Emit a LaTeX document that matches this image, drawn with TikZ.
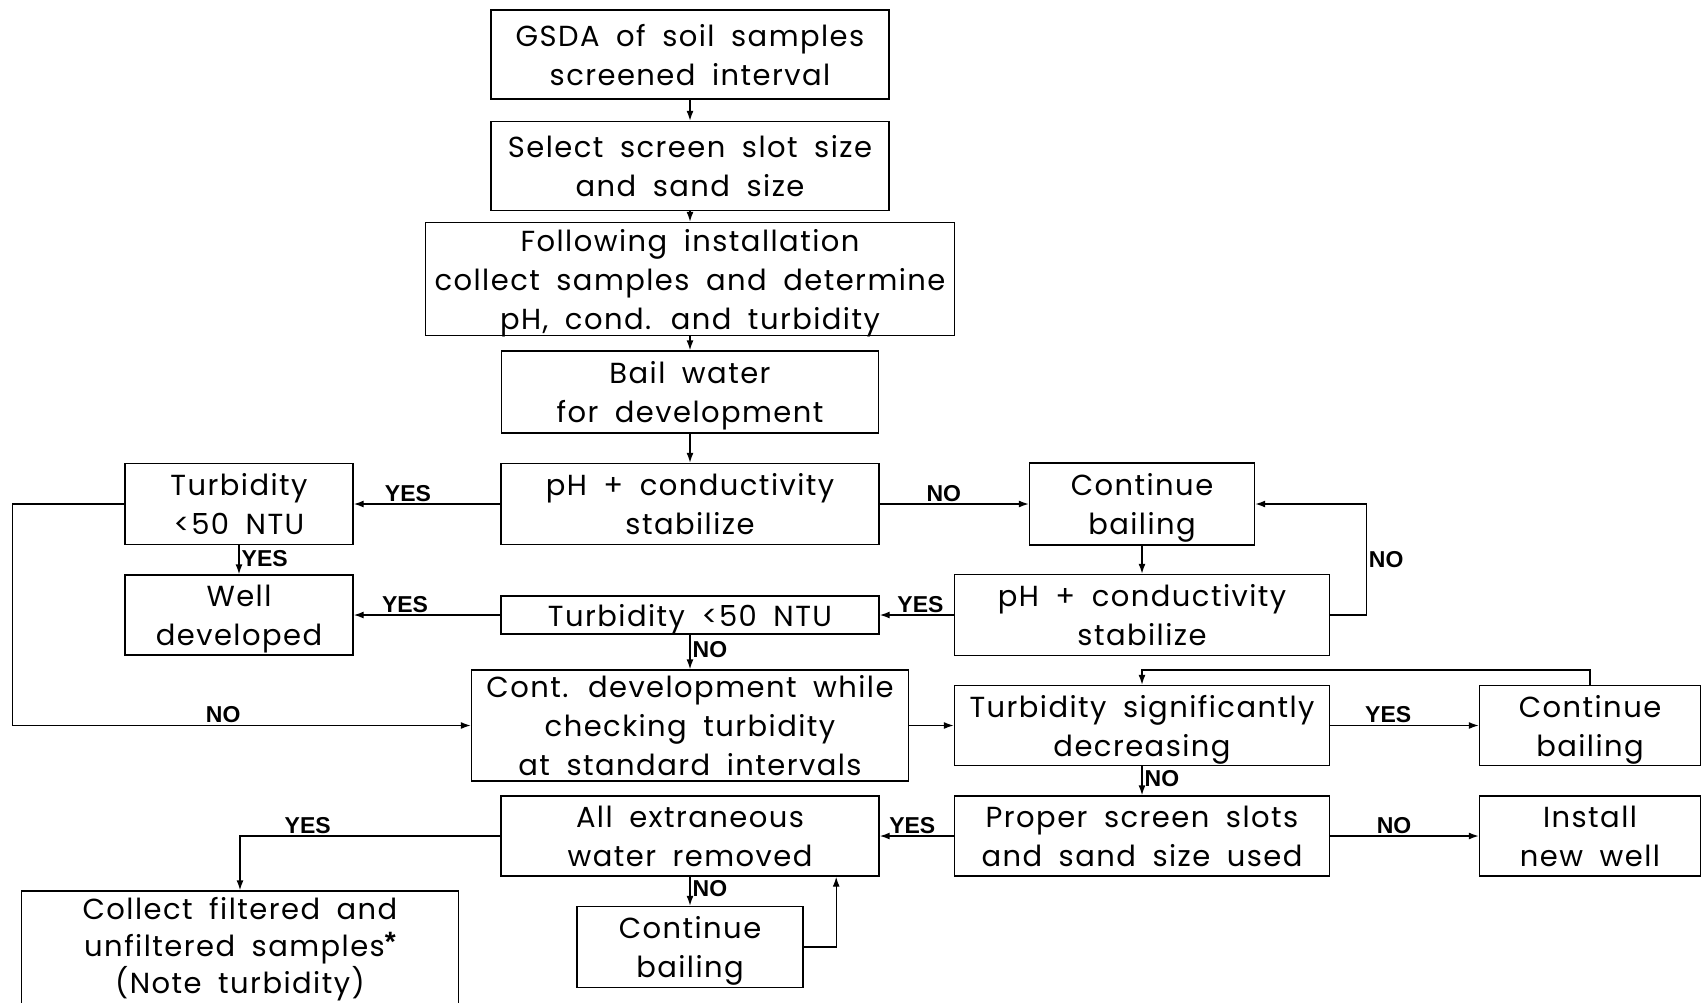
\documentclass[tikz,border=0pt]{standalone}
\usepackage{fontspec}
\setmainfont[LetterSpace=5, WordSpace=1.8]{Poppins}
\newfontfamily\ansfont{Liberation Sans}
\usetikzlibrary{arrows.meta}
\tikzset{
    flowbox/.style={draw, line width=1.4pt, inner sep=0pt, align=center, text depth=0pt, font=\fontsize{29}{39}\selectfont},
    flowarr/.style={line width=1.4pt, -{Latex[length=10pt,width=7pt]}},
    ans/.style={font=\ansfont\bfseries\fontsize{23}{23}\selectfont, inner sep=2pt}
}

\begin{document}
\begin{tikzpicture}[x=1pt, y=-1pt]
                \clip (0,0) rectangle (1702,1002);

                \node[flowbox, minimum width=398, minimum height=89] (gsda) at (690,54.5) {GSDA of soil samples\\screened interval};
                \node[flowbox, minimum width=398, minimum height=89] (slot) at (690,166) {Select screen slot size\\and sand size};
                \node[flowbox, minimum width=529, minimum height=113, text depth=-4pt] (install) at (690,279) {Following installation\\collect samples and determine\\pH, cond. and turbidity};
                \node[flowbox, minimum width=377, minimum height=82] (bail) at (690,392) {Bail water\\for development};

                \node[flowbox, minimum width=378, minimum height=81] (phA) at (690,504) {pH + conductivity\\stabilize};
                \node[flowbox, minimum width=228, minimum height=81] (turbA) at (239,504) {Turbidity\\<50 NTU};
                \node[flowbox, minimum width=225, minimum height=82] (bailA) at (1142,504) {Continue\\bailing};

                \node[flowbox, minimum width=228, minimum height=80] (done) at (239,615) {Well\\developed};
                \node[flowbox, minimum width=378, minimum height=38] (turbB) at (690,615) {Turbidity <50 NTU};
                \node[flowbox, minimum width=375, minimum height=81] (phB) at (1142,615) {pH + conductivity\\stabilize};

                \node[flowbox, minimum width=437, minimum height=111] (contdev) at (690,725.5) {Cont. development while\\checking turbidity\\at standard intervals};
                \node[flowbox, minimum width=375, minimum height=80] (decr) at (1142,725.5) {Turbidity significantly\\decreasing};
                \node[flowbox, minimum width=221, minimum height=80] (bailB) at (1590,725.5) {Continue\\bailing};

                \node[flowbox, minimum width=378, minimum height=80] (water) at (690,836) {All extraneous\\water removed};
                \node[flowbox, minimum width=375, minimum height=80] (proper) at (1142,836) {Proper screen slots\\and sand size used};
                \node[flowbox, minimum width=221, minimum height=80] (newwell) at (1590,836) {Install\\new well};

                \node[flowbox, minimum width=437, minimum height=118, text depth=9pt, font=\fontsize{29}{37}\selectfont] (collect) at (240,950) {Collect filtered and\\unfiltered samples\raisebox{5pt}{\ansfont\bfseries\fontsize{28}{28}\selectfont*}\\(Note turbidity)};
                \node[flowbox, minimum width=226, minimum height=81] (bailC) at (690,947) {Continue\\bailing};

                \draw[flowarr] (gsda.south) -- (slot.north);
                \draw[flowarr] (slot.south) -- (install.north);
                \draw[flowarr] (install.south) -- (bail.north);
                \draw[flowarr] (bail.south) -- (phA.north);

                \draw[flowarr] (phA.west) -- node[ans, above, pos=.63] {YES} (turbA.east);
                \draw[flowarr] (phA.east) -- node[ans, above, pos=.43] {NO} (bailA.west);
                \draw[flowarr] (turbA.south) -- node[ans, right, pos=.45] {YES} (done.north);
                \draw[flowarr] (turbA.west) -- ++(-112,0) |- node[ans, above, pos=.73] {NO} (contdev.west);

                \draw[flowarr] (bailA.south) -- (phB.north);
                \draw[flowarr] (phB.east) -- ++(36,0) |- node[ans, right, pos=.25] {NO} (bailA.east);
                \draw[flowarr] (phB.west) -- node[ans, above, pos=.45] {YES} (turbB.east);
                \draw[flowarr] (turbB.west) -- node[ans, above, pos=.65] {YES} (done.east);
                \draw[flowarr] (turbB.south) -- node[ans, right, pos=.42] {NO} (contdev.north);

                \draw[flowarr] (contdev.east) -- (decr.west);
                \draw[flowarr] (decr.east) -- node[ans, above, pos=.39] {YES} (bailB.west);
                \draw[flowarr] (bailB.north) -- ++(0,-15) -| (decr.north);
                \draw[flowarr] (decr.south) -- node[ans, right, pos=.43] {NO} (proper.north);

                \draw[flowarr] (proper.west) -- node[ans, above, pos=.56] {YES} (water.east);
                \draw[flowarr] (proper.east) -- node[ans, above, pos=.43] {NO} (newwell.west);
                \draw[flowarr] (water.west) -| node[ans, above, pos=.37] {YES} (collect.north);
                \draw[flowarr] (water.south) -- node[ans, right, pos=.4] {NO} (bailC.north);
                \draw[flowarr] (bailC.east) -| ([xshift=-43.5pt]water.south east);
            \end{tikzpicture}
\end{document}
